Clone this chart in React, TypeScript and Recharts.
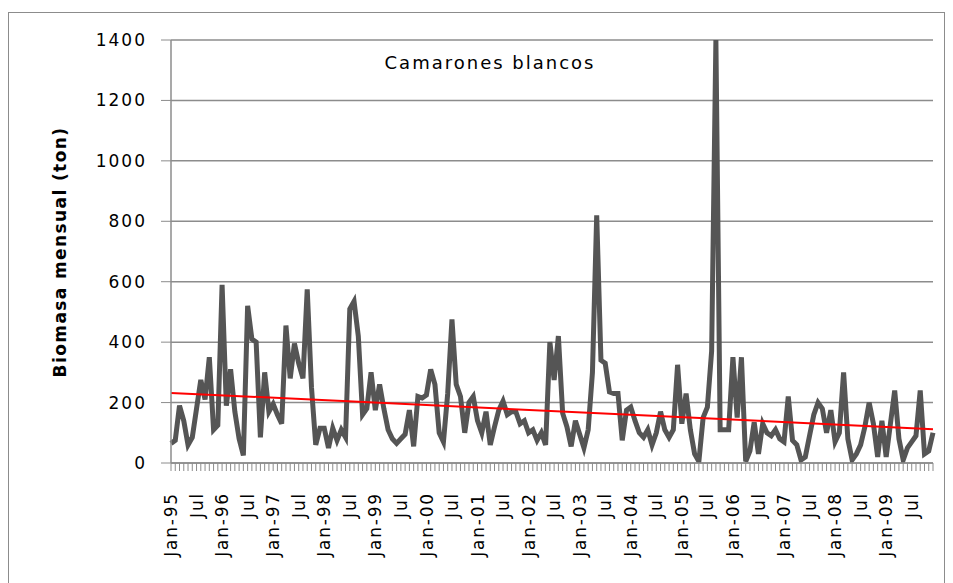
import { LineChart, Line, XAxis, YAxis, CartesianGrid, ReferenceLine } from "recharts";

// monthly biomass (ton), one array per year, Jan..Dec
const y1995 = [65, 75, 190, 140, 60, 85, 180, 275, 210, 350, 110, 125];
const y1996 = [590, 190, 310, 170, 80, 25, 520, 410, 400, 85, 300, 170];
const y1997 = [195, 160, 130, 455, 280, 395, 330, 280, 575, 250, 60, 115];
const y1998 = [115, 50, 115, 75, 110, 85, 510, 535, 420, 160, 180, 300];
const y1999 = [175, 260, 180, 110, 80, 65, 80, 95, 175, 55, 220, 215];
const y2000 = [225, 310, 260, 100, 70, 230, 475, 260, 220, 100, 200, 220];
const y2001 = [140, 100, 170, 60, 120, 175, 205, 160, 170, 170, 130, 140];
const y2002 = [100, 110, 75, 100, 60, 400, 275, 420, 165, 120, 55, 140];
const y2003 = [95, 50, 110, 300, 820, 340, 330, 235, 230, 230, 75, 175];
const y2004 = [185, 140, 100, 85, 110, 60, 100, 170, 110, 85, 110, 325];
const y2005 = [130, 230, 110, 30, 5, 150, 185, 370, 1400, 110, 110, 110];
const y2006 = [350, 150, 350, 5, 40, 135, 30, 130, 100, 90, 110, 80];
const y2007 = [70, 220, 75, 60, 10, 20, 90, 160, 200, 180, 100, 175];
const y2008 = [70, 100, 300, 80, 10, 30, 60, 120, 200, 130, 20, 140];
const y2009 = [20, 130, 240, 80, 10, 50, 70, 90, 240, 30, 40, 100];

const years = ["95", "96", "97", "98", "99", "00", "01", "02", "03", "04", "05", "06", "07", "08", "09"];
const monthNames = ["Jan", "Feb", "Mar", "Apr", "May", "Jun", "Jul", "Aug", "Sep", "Oct", "Nov", "Dec"];
const yTicks = [0, 200, 400, 600, 800, 1000, 1200, 1400];

// trend line end values
const trendStart = 232;
const trendEnd = 112;

const series = [y1995, y1996, y1997, y1998, y1999, y2000, y2001, y2002, y2003, y2004, y2005, y2006, y2007, y2008, y2009];

const data = series.flatMap((vals, yi) =>
  vals.map((v, mi) => ({ name: `${monthNames[mi]}-${years[yi]}`, value: v }))
);

const font = "'DejaVu Sans', Verdana, sans-serif";

const MonthTick = (props: any) => {
  const { x, y, payload, index } = props;
  const m = index % 12;
  if (m !== 0 && m !== 6) return null;
  const label = m === 0 ? payload.value : "Jul";
  return (
    <text
      x={x}
      y={y + 19}
      dy="0.36em"
      transform={`rotate(-90, ${x}, ${y + 19})`}
      textAnchor="end"
      fontSize={17}
      letterSpacing={1.8}
      fill="#000"
      fontFamily={font}
    >
      {label}
    </text>
  );
};

export default function App() {
  return (
    <div style={{ position: "absolute", left: 0, top: 0, width: 953, height: 583, background: "#fff", overflow: "hidden" }}>
      <div
        style={{
          position: "absolute",
          left: 8,
          top: 12,
          width: 935,
          height: 580,
          border: "1px solid #8c8c8c",
        }}
      />
      <LineChart
        width={953}
        height={583}
        data={data}
        margin={{ top: 40, right: 20, left: 0, bottom: 0 }}
        style={{ position: "absolute", left: 0, top: 0 }}
      >
        <CartesianGrid vertical={false} stroke="#8c8c8c" strokeWidth={1.5} />
        <XAxis
          dataKey="name"
          interval={0}
          height={120}
          tick={<MonthTick />}
          tickSize={8}
          tickLine={{ stroke: "#8c8c8c" }}
          axisLine={{ stroke: "#8c8c8c", strokeWidth: 1.5 }}
        />
        <YAxis
          width={171}
          domain={[0, 1400]}
          ticks={yTicks}
          interval={0}
          allowDataOverflow
          tickSize={10}
          tickMargin={14}
          tickLine={{ stroke: "#8c8c8c" }}
          axisLine={{ stroke: "#8c8c8c", strokeWidth: 1.5 }}
          tick={{ fill: "#000", fontSize: 17, fontFamily: font, letterSpacing: 2 }}
        />
        <Line
          type="linear"
          dataKey="value"
          stroke="#555555"
          strokeWidth={5}
          dot={false}
          isAnimationActive={false}
        />
        <ReferenceLine
          segment={[
            { x: data[0].name, y: trendStart },
            { x: data[data.length - 1].name, y: trendEnd },
          ]}
          stroke="#ff0000"
          strokeWidth={2}
        />
      </LineChart>
      <div
        style={{
          position: "absolute",
          left: 490,
          top: 62,
          transform: "translate(-50%, -50%)",
          fontFamily: font,
          fontSize: 18,
          letterSpacing: 2,
          whiteSpace: "nowrap",
          color: "#000",
        }}
      >
        Camarones blancos
      </div>
      <div
        style={{
          position: "absolute",
          left: 60,
          top: 252,
          transform: "translate(-50%, -50%) rotate(-90deg)",
          fontFamily: font,
          fontSize: 17,
          fontWeight: "bold",
          letterSpacing: 1.4,
          whiteSpace: "nowrap",
          color: "#000",
        }}
      >
        Biomasa mensual (ton)
      </div>
    </div>
  );
}
